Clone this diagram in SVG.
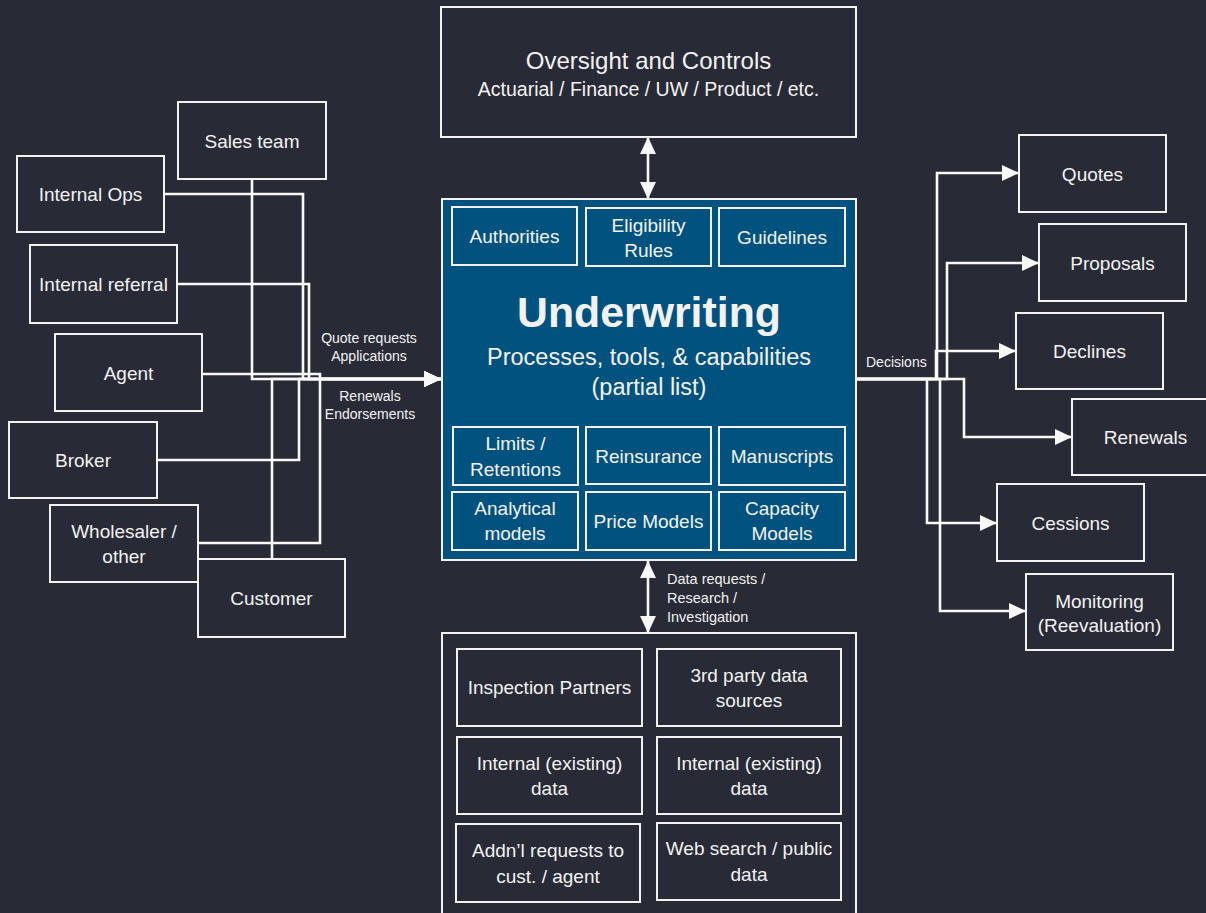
<svg xmlns="http://www.w3.org/2000/svg" width="1206" height="913" viewBox="0 0 1206 913">
<style>
.bg{fill:#282a36}
.box{fill:#282a36;stroke:#f2f2f2;stroke-width:2}
.ubox{fill:#02527f;stroke:#f2f2f2;stroke-width:2}
text{font-family:"Liberation Sans",Arial,sans-serif;fill:#f2f2f2;text-anchor:middle}
.n{font-size:19px}
.s{font-size:14px}
.b{font-size:14.5px}
.l{text-anchor:start}
.conn path{fill:none;stroke:#f8f8f8;stroke-width:2.6}
</style>
<defs>
<marker id="ah" markerUnits="userSpaceOnUse" markerWidth="17" markerHeight="16" refX="17" refY="8" orient="auto-start-reverse" viewBox="0 0 17 16">
<path d="M0,0 L17,8 L0,16 z" fill="#f8f8f8"/>
</marker>
</defs>
<rect class="bg" x="0" y="0" width="1206" height="913"/>
<g id="connectors" class="conn">
<path d="M252,179 V379 H441" marker-end="url(#ah)"/>
<path d="M164,194 H303 V379 H441" marker-end="url(#ah)"/>
<path d="M177,284 H309 V379 H441" marker-end="url(#ah)"/>
<path d="M202,374 H320 V379 H441" marker-end="url(#ah)"/>
<path d="M157,460 H299 V379 H441" marker-end="url(#ah)"/>
<path d="M198,543 H320 V379 H441" marker-end="url(#ah)"/>
<path d="M272,559 V379 H441" marker-end="url(#ah)"/>
<path d="M856,379 H937 V173 H1019" marker-end="url(#ah)"/>
<path d="M856,379 H947 V263 H1039" marker-end="url(#ah)"/>
<path d="M856,379 H936 V351 H1016" marker-end="url(#ah)"/>
<path d="M856,379 H964 V437 H1072" marker-end="url(#ah)"/>
<path d="M856,379 H927 V523 H997" marker-end="url(#ah)"/>
<path d="M856,379 H940 V611 H1026" marker-end="url(#ah)"/>
<path d="M648,137 V199" marker-start="url(#ah)" marker-end="url(#ah)"/>
<path d="M648,561 V633" marker-start="url(#ah)" marker-end="url(#ah)"/>
</g>
<g id="conn-labels">
<text class="s" x="369" y="343">Quote requests</text>
<text class="s" x="369" y="361">Applications</text>
<text class="s" x="370" y="401">Renewals</text>
<text class="s" x="370" y="419">Endorsements</text>
<text class="s l" x="866" y="367">Decisions</text>
<text class="b l" x="667" y="584">Data requests /</text>
<text class="b l" x="667" y="603">Research /</text>
<text class="b l" x="667" y="622">Investigation</text>
</g>
<g id="sales-team"><rect class="box" x="178" y="102" width="148" height="77"/><text class="n" x="252" y="147.5">Sales team</text></g>
<g id="internal-ops"><rect class="box" x="17" y="156" width="147" height="76"/><text class="n" x="90.5" y="201">Internal Ops</text></g>
<g id="internal-referral"><rect class="box" x="30" y="245" width="147" height="78"/><text class="n" x="103.5" y="291">Internal referral</text></g>
<g id="agent"><rect class="box" x="55" y="334" width="147" height="77"/><text class="n" x="128.5" y="379.5">Agent</text></g>
<g id="broker"><rect class="box" x="9" y="422" width="148" height="76"/><text class="n" x="83" y="467">Broker</text></g>
<g id="wholesaler"><rect class="box" x="50" y="505" width="148" height="77"/><text class="n" x="124" y="538">Wholesaler /</text><text class="n" x="124" y="563">other</text></g>
<g id="customer"><rect class="box" x="198" y="559" width="147" height="78"/><text class="n" x="271.5" y="605">Customer</text></g>
<g id="oversight"><rect class="box" x="441" y="7" width="415" height="130"/><text x="648.5" y="69" font-size="24">Oversight and Controls</text><text x="648.5" y="96" font-size="19.5">Actuarial / Finance / UW / Product / etc.</text></g>
<g id="underwriting">
<rect class="ubox" x="442" y="199" width="414" height="361"/>
<text x="649" y="327" font-size="42.8" font-weight="bold">Underwriting</text>
<text x="649" y="365" font-size="23.5">Processes, tools, &amp; capabilities</text>
<text x="649" y="395" font-size="23.5">(partial list)</text>
</g>
<g id="authorities"><rect class="ubox" x="452" y="207" width="125" height="58"/><text class="n" x="514.5" y="243">Authorities</text></g>
<g id="eligibility"><rect class="ubox" x="586" y="208" width="125" height="58"/><text class="n" x="648.5" y="232">Eligibility</text><text class="n" x="648.5" y="257">Rules</text></g>
<g id="guidelines"><rect class="ubox" x="719" y="208" width="126" height="58"/><text class="n" x="782" y="244">Guidelines</text></g>
<g id="limits"><rect class="ubox" x="453" y="427" width="125" height="58"/><text class="n" x="515.5" y="450">Limits /</text><text class="n" x="515.5" y="475.5">Retentions</text></g>
<g id="reinsurance"><rect class="ubox" x="586" y="427" width="125" height="57"/><text class="n" x="648.5" y="462.5">Reinsurance</text></g>
<g id="manuscripts"><rect class="ubox" x="719" y="427" width="126" height="58"/><text class="n" x="782" y="463">Manuscripts</text></g>
<g id="analytical"><rect class="ubox" x="452" y="492" width="126" height="58"/><text class="n" x="515" y="515">Analytical</text><text class="n" x="515" y="540">models</text></g>
<g id="price-models"><rect class="ubox" x="586" y="492" width="125" height="58"/><text class="n" x="648.5" y="528">Price Models</text></g>
<g id="capacity-models"><rect class="ubox" x="719" y="492" width="126" height="58"/><text class="n" x="782" y="515">Capacity</text><text class="n" x="782" y="540">Models</text></g>
<g id="data-sources"><rect class="box" x="442" y="633" width="414" height="300"/></g>
<g id="inspection"><rect class="box" x="457" y="649" width="185" height="77"/><text class="n" x="549.5" y="694">Inspection Partners</text></g>
<g id="third-party"><rect class="box" x="657" y="649" width="184" height="77"/><text class="n" x="749" y="682">3rd party data</text><text class="n" x="749" y="707">sources</text></g>
<g id="internal-data-1"><rect class="box" x="457" y="737" width="185" height="77"/><text class="n" x="549.5" y="770">Internal (existing)</text><text class="n" x="549.5" y="795">data</text></g>
<g id="internal-data-2"><rect class="box" x="657" y="737" width="184" height="77"/><text class="n" x="749" y="770">Internal (existing)</text><text class="n" x="749" y="795">data</text></g>
<g id="addnl"><rect class="box" x="456" y="824" width="184" height="78"/><text class="n" x="548" y="857">Addn’l requests to</text><text class="n" x="548" y="883">cust. / agent</text></g>
<g id="web-search"><rect class="box" x="657" y="823" width="184" height="77"/><text class="n" x="749" y="855">Web search / public</text><text class="n" x="749" y="881">data</text></g>
<g id="quotes"><rect class="box" x="1019" y="135" width="147" height="77"/><text class="n" x="1092.5" y="180.5">Quotes</text></g>
<g id="proposals"><rect class="box" x="1039" y="224" width="147" height="77"/><text class="n" x="1112.5" y="269.5">Proposals</text></g>
<g id="declines"><rect class="box" x="1016" y="313" width="147" height="76"/><text class="n" x="1089.5" y="358">Declines</text></g>
<g id="renewals"><rect class="box" x="1072" y="399" width="147" height="76"/><text class="n" x="1145.5" y="444">Renewals</text></g>
<g id="cessions"><rect class="box" x="997" y="484" width="147" height="77"/><text class="n" x="1070.5" y="529.5">Cessions</text></g>
<g id="monitoring"><rect class="box" x="1026" y="574" width="147" height="76"/><text class="n" x="1099.5" y="607.5">Monitoring</text><text class="n" x="1099.5" y="632">(Reevaluation)</text></g>
</svg>
